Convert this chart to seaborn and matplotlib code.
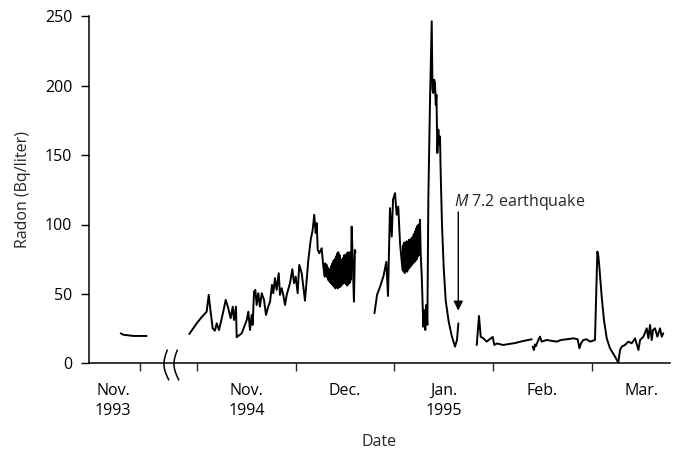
import numpy as np
import pandas as pd
import matplotlib
matplotlib.use("Agg")
import matplotlib.pyplot as plt
import seaborn as sns

# time axis: months since 1 Nov 1994 (equal-width months); Nov 1993 sits left of the axis break
nov93_t = [-0.773, -0.747, -0.645, -0.510]
nov93_radon = [21.6, 20.6, 19.7, 19.7]

novdec_t = [-0.078, -0.003, 0.041, 0.098, 0.119, 0.132, 0.159, 0.182, 0.200, 0.223,
            0.243, 0.266, 0.291, 0.317, 0.341, 0.362, 0.375, 0.395, 0.402, 0.453,
            0.504, 0.520, 0.537, 0.554, 0.564, 0.578, 0.591, 0.605, 0.621, 0.638,
            0.656, 0.679, 0.699, 0.722, 0.740, 0.760, 0.773, 0.790, 0.807, 0.828,
            0.841, 0.858, 0.874, 0.892, 0.909, 0.942, 0.966, 0.983, 1.000, 1.020,
            1.036, 1.061, 1.094, 1.128, 1.152, 1.172, 1.188, 1.203, 1.213, 1.223,
            1.239, 1.263, 1.280, 1.294,
            1.300, 1.306, 1.312, 1.318, 1.324, 1.330, 1.336, 1.342, 1.348, 1.354,
            1.360, 1.366, 1.372, 1.378, 1.384, 1.390, 1.396, 1.402, 1.408, 1.414,
            1.420, 1.426, 1.432, 1.438, 1.444, 1.450, 1.456, 1.462, 1.468, 1.474,
            1.480, 1.486, 1.492, 1.498, 1.504, 1.510, 1.516, 1.522, 1.528, 1.534,
            1.540, 1.546, 1.552, 1.558,
            1.567, 1.575, 1.590, 1.600, 1.606]
novdec_radon = [21.1, 28.8, 32.7, 37.2, 49.3, 40.8, 25.2, 23.5, 28.8, 24.0,
                30.0, 37.2, 45.7, 39.7, 32.5, 40.8, 31.2, 40.8, 18.8, 21.6,
                31.2, 37.2, 24.0, 34.8, 27.6, 51.6, 52.9, 42.0, 50.5, 40.8,
                50.5, 45.7, 34.8, 40.8, 44.4, 56.5, 50.5, 61.3, 52.9, 64.9,
                49.3, 54.1, 49.3, 42.0, 49.3, 57.7, 67.8, 57.7, 62.5, 50.5,
                70.9, 64.9, 45.1, 74.5, 88.9, 96.1, 107.0, 93.8, 101.0, 81.8,
                79.3, 82.9, 69.7, 62.5,
                72, 63, 71, 62, 69, 60, 68, 59, 67, 58,
                70, 57, 72, 56, 74, 55, 75, 54, 77, 55,
                79, 54, 80, 55, 78, 55, 75, 56, 73, 57,
                76, 58, 78, 58, 77, 57, 79, 56, 80, 57,
                78, 58, 80, 60,
                98.5, 81, 44.4, 81.7, 80]

janpeak_t = [1.798, 1.824, 1.854, 1.890, 1.918, 1.935, 1.955, 1.973, 1.986, 2.006,
             2.023, 2.039, 2.057, 2.082,
             2.088, 2.094, 2.100, 2.106, 2.112, 2.118, 2.124, 2.130, 2.136, 2.142,
             2.148, 2.154, 2.160, 2.166, 2.172, 2.178, 2.184, 2.190, 2.196, 2.202,
             2.208, 2.214, 2.220, 2.226, 2.232, 2.238, 2.244, 2.250,
             2.259, 2.266, 2.277, 2.293, 2.303, 2.313, 2.324, 2.334, 2.344, 2.361,
             2.378, 2.386, 2.394, 2.403, 2.411, 2.419, 2.426, 2.435, 2.445, 2.454,
             2.462, 2.468, 2.482, 2.500, 2.520, 2.550, 2.580, 2.614, 2.634, 2.648]
janpeak_radon = [36.1, 49.3, 55.0, 63.0, 73.1, 48.5, 111.8, 91.3, 117.8, 122.6,
                 107.0, 112.9, 86.5, 67.3,
                 85, 66, 87, 65, 86, 67, 88, 66, 87, 68,
                 89, 69, 88, 70, 90, 71, 91, 72, 93, 73,
                 95, 74, 97, 75, 99, 77, 100, 78,
                 103.4, 80, 62.5, 26.4, 38.4, 24.0, 42.1, 27.7, 120.2, 190.0,
                 246.4, 197.1, 194.7, 204.3, 202.0, 186.3, 193.5, 151.5, 168.3, 157.4,
                 163.4, 140, 100, 68, 45, 30, 20, 12.0, 16.8, 28.8]

feb_t = [2.834, 2.857, 2.874, 2.901, 2.935, 2.968, 2.996, 3.012, 3.039, 3.100,
         3.222, 3.300, 3.391]
feb_radon = [13.2, 34.1, 19.2, 18.0, 15.6, 17.5, 19.0, 13.2, 14.3, 13.2,
             14.6, 16.0, 17.3]

febmar_t = [3.401, 3.414, 3.424, 3.435, 3.458, 3.475, 3.492, 3.543, 3.644, 3.688,
            3.746, 3.813, 3.857, 3.874, 3.891, 3.914, 3.948, 3.982, 4.032, 4.056,
            4.066, 4.076, 4.100, 4.123, 4.151, 4.184, 4.235, 4.268, 4.286, 4.303,
            4.336, 4.370, 4.404, 4.438, 4.472, 4.489, 4.523, 4.556, 4.573, 4.590,
            4.607, 4.620, 4.640, 4.664, 4.691, 4.708, 4.724]
febmar_radon = [12.0, 9.6, 13.6, 12.5, 16.8, 19.2, 15.6, 16.8, 15.6, 16.8,
                17.3, 18.0, 17.3, 10.8, 14.4, 16.8, 17.3, 15.6, 16.8, 80.5,
                77.4, 69.7, 48.0, 31.2, 18.0, 10.8, 4.8, 0.5, 9.6, 12.0,
                13.2, 15.6, 14.4, 18.0, 9.6, 16.8, 19.2, 25.2, 18.0, 27.6,
                16.8, 24.0, 25.2, 19.2, 25.2, 19.2, 21.6]

month_bounds = [-0.578, 0, 1, 2, 3, 4]
label_pos = [-0.851, 0.5, 1.5, 2.5, 3.5, 4.5]
month_labels = ["Nov.\n1993", "Nov.\n1994", "Dec.", "Jan.\n1995", "Feb.", "Mar."]
y_ticks = [0, 50, 100, 150, 200, 250]

quake_t = 2.647
quake_arrow_top = 109
quake_arrow_tip = 38
quake_text_y = 113.5

segments = [
    ("nov93", nov93_t, nov93_radon),
    ("novdec", novdec_t, novdec_radon),
    ("janpeak", janpeak_t, janpeak_radon),
    ("feb", feb_t, feb_radon),
    ("febmar", febmar_t, febmar_radon),
]
df = pd.concat([pd.DataFrame({"t": t, "radon": v, "segment": name})
                for name, t, v in segments], ignore_index=True)

sns.set_theme(style="ticks")
plt.rcParams["font.family"] = ["Open Sans", "DejaVu Sans"]
plt.rcParams["mathtext.fontset"] = "custom"
plt.rcParams["mathtext.it"] = "Open Sans:italic"
plt.rcParams["mathtext.rm"] = "Open Sans"

fig = plt.figure(figsize=(6.73, 4.49), dpi=100)
ax = fig.add_axes([89 / 673, 1 - 363.3 / 449, 581 / 673, 347 / 449])

sns.lineplot(data=df, x="t", y="radon", units="segment", estimator=None,
             color="black", linewidth=1.4, ax=ax, legend=False)

sns.despine(ax=ax)
for s in ["left", "bottom"]:
    ax.spines[s].set_linewidth(1.1)
    ax.spines[s].set_color("black")

ax.set_yticks(y_ticks)
ax.tick_params(axis="y", direction="out", length=6, width=1.0, pad=6,
               labelsize=11.5, colors="black")
ax.set_xticks(month_bounds)
ax.set_xticklabels([])
ax.tick_params(axis="x", which="major", direction="out", length=6, width=1.0)
ax.set_xticks(label_pos, minor=True)
ax.set_xticklabels(month_labels, minor=True, fontsize=11.5, linespacing=1.35)
ax.tick_params(axis="x", which="minor", length=0, pad=14, colors="black")
ax.set_xlim(-1.094, 4.792)
ax.set_ylim(0, 250)

ax.set_ylabel("Radon (Bq/liter)", fontsize=11.5, labelpad=10)
ax.set_xlabel("Date", fontsize=11.5, labelpad=11)

# axis break marks
for x0 in [(168 - 89) / 581, (178 - 89) / 581]:
    s = np.linspace(0, 1, 40)
    xs = x0 - (4.0 / 581) * np.sin(np.pi * s) + (1.5 / 581) * (s - 0.5)
    ys = 0.038 - 0.086 * s
    ax.plot(xs, ys, color="black", lw=1.1, transform=ax.transAxes, clip_on=False)

ax.annotate("", xy=(quake_t, quake_arrow_tip), xytext=(quake_t, quake_arrow_top),
            arrowprops=dict(arrowstyle="-|>", color="black", lw=1.0,
                            mutation_scale=14, shrinkA=0, shrinkB=0))
ax.text(quake_t - 0.045, quake_text_y, r"$M$ 7.2 earthquake",
        fontsize=11.5, ha="left", va="baseline")

fig.savefig("out.png", dpi=100)
